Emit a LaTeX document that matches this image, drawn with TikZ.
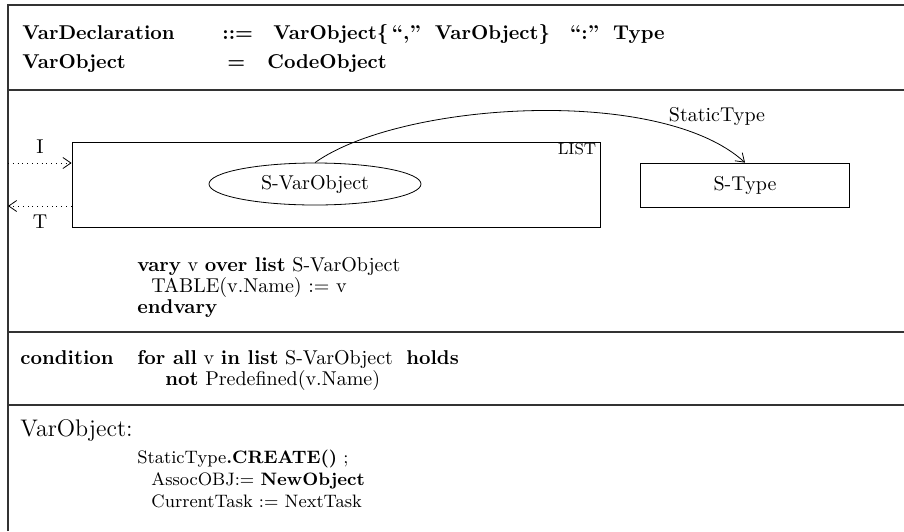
\documentclass[tikz,border=0pt]{standalone}
\usetikzlibrary{shapes.geometric,arrows.meta}
\begin{document}
\begin{tikzpicture}[x=0.5pt,y=-0.5pt,
    >={Straight Barb[length=4pt,width=5.5pt]},
    txt/.style={anchor=base west, inner sep=0pt},
    rule/.style={line width=0.7pt, draw=black!80}]
\useasboundingbox (0,0) rectangle (904,531);
% frame
\draw[rule] (8,531) -- (8,5) -- (904,5);
\draw[rule] (8,90) -- (904,90);
\draw[rule] (8,332) -- (904,332);
\draw[rule] (8,405) -- (904,405);

% syntax
\node[txt] (d1) at (22,39) {\textbf{VarDeclaration}};
\node[txt] (d2) at (222,39) {\textbf{::=}};
\node[txt] (d3) at (273,39) {\textbf{VarObject\{\,``,''\hspace{7pt}VarObject\}\hspace{10pt}``:''\hspace{7pt}Type}};
\node[txt] (o1) at (22,68) {\textbf{VarObject}};
\node[txt] (o2) at (227,68) {\textbf{=}};
\node[txt] (o3) at (267,68) {\textbf{CodeObject}};

% structure
\node[draw, minimum width=264pt, minimum height=42.5pt, inner sep=0pt] (lst) at (336,184.5) {};
\node[font=\footnotesize, inner sep=0pt] (lbl) at (577,149) {LIST};
\node[draw, ellipse, minimum width=106pt, minimum height=21pt, inner sep=0pt] (sv) at (315,184) {S-VarObject};
\node[draw, minimum width=104.5pt, minimum height=22pt, inner sep=0pt] (st) at (745,185) {S-Type};
\draw[->] (sv.north) .. controls (400,102) and (660,85) .. (st.north);
\node (stl) at (717,116) {StaticType};

\coordinate (iin) at (8,163);
\coordinate (tout) at (8,206);
\draw[dotted,->] (iin) -- (iin -| lst.west);
\draw[dotted,->] (tout -| lst.west) -- (tout);
\node (ii) at (40,147) {I};
\node (tt) at (40,222) {T};

\node[txt, align=left, anchor=north west, font=\fontsize{10}{10.5}\selectfont] (vary) at (137,257) {\textbf{vary} v \textbf{over list} S-VarObject\\
  \hspace{7pt}TABLE(v.Name) := v\\
  \textbf{endvary}};

% condition
\node[txt, anchor=north west, font=\fontsize{10}{10.5}\selectfont] (c1) at (20,350) {\textbf{condition}};
\node[txt, align=left, anchor=north west, font=\fontsize{10}{10.5}\selectfont] (c2) at (137,350) {\textbf{for all} v \textbf{in list} S-VarObject \ \textbf{holds}\\
  \hspace{14pt}\textbf{not} Predefined(v.Name)};

% semantics
\node[txt, font=\large] (s1) at (20,436) {VarObject:};
\node[txt, align=left, anchor=north west, font=\small] (code) at (137,450) {StaticType\textbf{.CREATE()} ;\\
  \hspace{7pt}AssocOBJ:= \textbf{NewObject}\\
  \hspace{7pt}CurrentTask := NextTask};
\end{tikzpicture}
\end{document}
